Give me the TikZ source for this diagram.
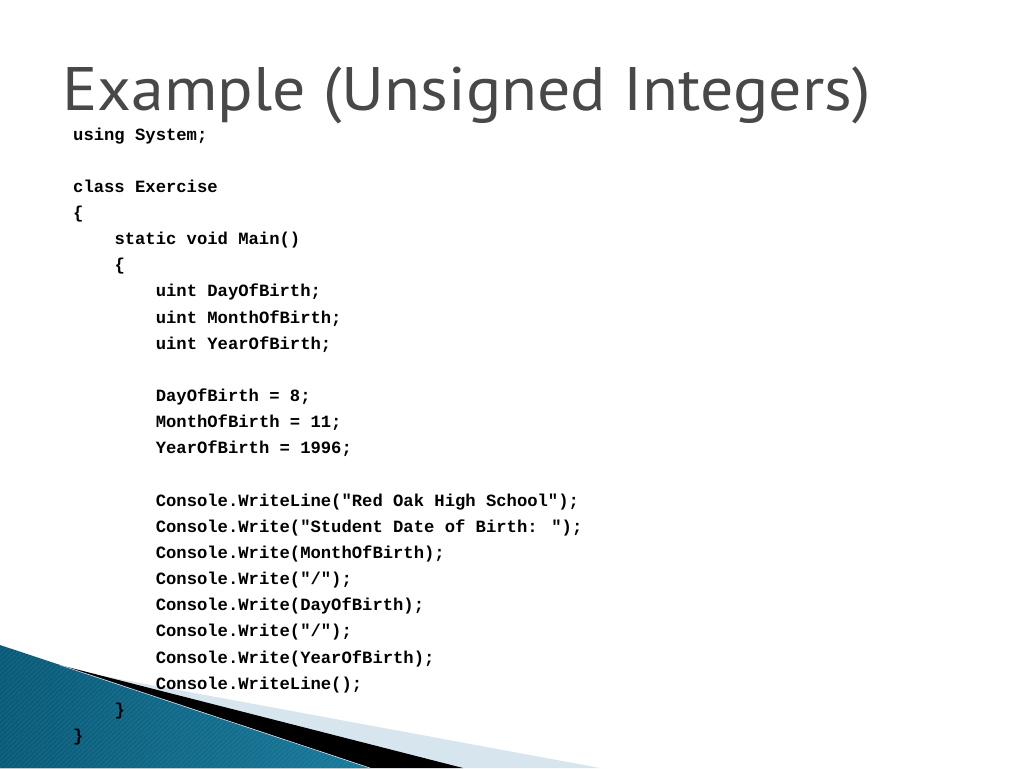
\documentclass[tikz,border=0pt]{standalone}
\usepackage{fontspec}
\usepackage{xcolor}
\usepackage{tikz}
\setmainfont{PT Sans}
\newfontfamily\codefont{Liberation Mono}
\definecolor{titlegray}{RGB}{72,72,72}
\definecolor{tealdark}{RGB}{8,90,120}
\definecolor{teallight}{RGB}{92,190,220}
\definecolor{tealmid}{RGB}{24,122,154}
\definecolor{paleblue}{RGB}{214,229,238}

\begin{document}
\begin{tikzpicture}[x=1pt,y=-1pt,
    codeline/.style={anchor=base west,inner sep=0pt,font=\fontsize{17.2}{20}\codefont\bfseries},
    slidetitle/.style={anchor=base west,inner sep=0pt,text=titlegray,font=\fontsize{61.4}{70}\selectfont}]
                \useasboundingbox (0,0) rectangle (1024,768);
                \fill[white] (0,0) rectangle (1024,768);

                % corner swoosh
                \fill[paleblue] (70,670) -- (600,768) -- (0,768) -- cycle;
                \fill[black] (40,660) -- (463,768) -- (0,768) -- cycle;
                \shade[left color=tealdark,middle color=teallight,right color=tealmid] (0,645) -- (370,768) -- (0,768) -- cycle;
                \begin{scope}
                    \clip (0,645) -- (370,768) -- (0,768) -- cycle;
                    \foreach \s in {0,5,...,520}
                        \draw[white,opacity=0.06,line width=1.2pt] (\s-130,768) -- (\s,645);
                \end{scope}
                \draw[paleblue,line width=0.6pt] (60,665) -- (370,768);

                \node[slidetitle] (title) at (62,110) {\scalebox{1.072}[1]{Example (Unsigned Integers)}};

                \node[codeline] (using) at (73,140) {using System;};
                \node[codeline] (cls) at (73,192.3) {class Exercise};
                \node[codeline] (clsopen) at (73,218.45) {\{};
                \node[codeline] (main) at (114.3,244.6) {static void Main()};
                \node[codeline] (mainopen) at (114.3,270.75) {\{};
                \node[codeline] (declday) at (155.6,296.9) {uint DayOfBirth;};
                \node[codeline] (declmonth) at (155.6,323.05) {uint MonthOfBirth;};
                \node[codeline] (declyear) at (155.6,349.2) {uint YearOfBirth;};
                \node[codeline] (setday) at (155.6,401.5) {DayOfBirth = 8;};
                \node[codeline] (setmonth) at (155.6,427.65) {MonthOfBirth = 11;};
                \node[codeline] (setyear) at (155.6,453.8) {YearOfBirth = 1996;};
                \node[codeline] (school) at (155.6,506.1) {Console.WriteLine("Red Oak High School");};
                \node[codeline] (label) at (155.6,532.25) {Console.Write("Student Date of Birth: ");};
                \node[codeline] (month) at (155.6,558.4) {Console.Write(MonthOfBirth);};
                \node[codeline] (slasha) at (155.6,584.55) {Console.Write("/");};
                \node[codeline] (day) at (155.6,610.7) {Console.Write(DayOfBirth);};
                \node[codeline] (slashb) at (155.6,636.85) {Console.Write("/");};
                \node[codeline] (year) at (155.6,663) {Console.Write(YearOfBirth);};
                \node[codeline] (newline) at (155.6,689.15) {Console.WriteLine();};
                \node[codeline] (mainclose) at (114.3,715.3) {\}};
                \node[codeline] (clsclose) at (73,741.45) {\}};
            \end{tikzpicture}
\end{document}
